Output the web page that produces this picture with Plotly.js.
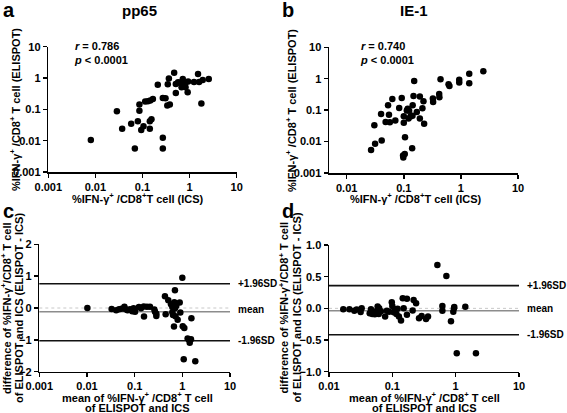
<!DOCTYPE html>
<html>
<head>
<meta charset="utf-8">
<script src="https://cdn.plot.ly/plotly-3.0.1.min.js"></script>
<style>html,body{margin:0;padding:0;background:#fff;}#chart{width:567px;height:413px;}</style>
</head>
<body>
<div id="chart"></div>
<script>
// Panel a: pp65 (ICS vs ELISPOT)
const pp65ICS = [0.008,0.0286,0.037,0.0575,0.0688,0.0796,0.086,0.086,0.094,0.105,0.114,0.13,0.143,0.143,0.155,0.146,0.166,0.211,0.27,0.27,0.27,0.308,0.344,0.336,0.38,0.363,0.47,0.51,0.51,0.57,0.63,0.675,0.717,0.764,0.816,0.82,0.93,0.91,1.24,1.51,1.59,1.78,1.9,2.55];
const pp65ELI = [0.0105,0.0875,0.024,0.0347,0.0056,0.042,0.142,0.0896,0.022,0.029,0.177,0.18,0.024,0.042,0.048,0.19,0.215,0.614,0.232,0.0125,0.0056,0.226,0.63,0.132,0.142,0.97,1.48,0.334,0.645,0.73,0.71,0.505,0.93,0.6,0.71,0.505,0.78,0.35,0.75,1.34,0.75,0.153,0.86,0.93];
// Panel b: IE-1 (ICS vs ELISPOT)
const ie1ICS = [0.0267,0.0314,0.041,0.0305,0.04,0.048,0.057,0.053,0.055,0.063,0.071,0.083,0.092,0.1,0.1,0.097,0.098,0.104,0.105,0.113,0.117,0.121,0.124,0.131,0.142,0.14,0.143,0.148,0.152,0.169,0.191,0.191,0.212,0.221,0.227,0.323,0.326,0.417,0.42,0.44,0.608,0.63,0.935,0.935,1.4,1.4,2.47];
const ie1ELI = [0.0054,0.0086,0.0108,0.033,0.076,0.042,0.041,0.143,0.071,0.228,0.047,0.118,0.245,0.064,0.040,0.0036,0.0031,0.004,0.0137,0.097,0.11,0.054,0.095,0.063,0.066,0.0061,0.143,0.284,0.853,0.088,0.054,0.27,0.115,0.192,0.037,0.234,0.183,0.329,0.258,0.965,0.668,0.59,0.92,0.755,1.43,0.72,1.73];
// Panel c: pp65 Bland-Altman
const pp65Mean = [0.0102,0.0329,0.041,0.047,0.053,0.061,0.065,0.071,0.08,0.089,0.095,0.102,0.123,0.136,0.155,0.157,0.181,0.21,0.259,0.267,0.285,0.285,0.447,0.432,0.508,0.578,0.617,0.617,0.637,0.668,0.68,0.7,0.7,0.748,0.72,0.798,0.88,0.908,1.0,1.02,1.1,1.07,1.29,1.38,1.43,1.52,1.55,1.87];
const pp65Diff = [0,-0.03,-0.07,-0.04,-0.02,0.04,-0.04,-0.07,-0.04,-0.1,-0.01,-0.12,0.03,-0.01,0.05,-0.27,0.04,0.04,-0.05,-0.12,-0.18,-0.25,-0.2,0.37,0.24,0.12,0.03,-0.13,-0.22,-0.58,0.18,0.56,-0.01,0.07,-0.26,-0.37,0.17,-0.14,0.95,-0.57,-0.63,-1.61,-0.96,-1.0,-1.09,-0.98,-0.32,-1.67];
const pp65Limits = [0.76, -0.12, -1.03]; // +1.96SD, mean, -1.96SD
// Panel d: IE-1 Bland-Altman
const ie1Mean = [0.0168,0.021,0.0251,0.0273,0.0316,0.0328,0.0439,0.046,0.0483,0.052,0.053,0.057,0.0586,0.061,0.062,0.066,0.077,0.082,0.089,0.098,0.1,0.105,0.11,0.116,0.121,0.127,0.137,0.146,0.151,0.17,0.17,0.209,0.217,0.237,0.264,0.29,0.34,0.366,0.514,0.617,0.617,0.713,0.843,0.918,0.94,0.95,1.04,1.42,2.09];
const ie1Diff = [-0.016,-0.016,-0.037,-0.02,-0.058,0,-0.079,-0.016,-0.09,-0.058,-0.095,-0.037,0.03,-0.09,0,-0.047,-0.13,-0.037,-0.053,0.095,0.037,-0.063,-0.016,-0.09,-0.005,-0.13,-0.19,0.158,0,0.153,-0.1,-0.032,0.132,0.079,-0.158,-0.12,-0.168,-0.13,0.684,0.037,-0.037,0.51,-0.205,-0.053,0,0.02,-0.71,0.026,-0.71];
const ie1Limits = [0.358, -0.037, -0.416];
const limitLabels = ['+1.96SD', 'mean', '-1.96SD'];

const logTicks = [0.001, 0.01, 0.1, 1, 10];
const logTickText = ['0.001', '0.01', '0.1', '1', '10'];
const titles = ['pp65', 'IE-1'];
const panelLetters = ['a', 'b', 'c', 'd'];
const corrText = [['0.786', '< 0.0001'], ['0.740', '< 0.0001']];
const icsTitle = '%IFN-γ<sup>+</sup> /CD8<sup>+</sup>T cell (ICS)';
const eliTitle = '%IFN-γ<sup>+</sup> /CD8<sup>+</sup> T cell (ELISPOT)';
const meanTitle = ['mean of %IFN-γ<sup>+</sup> /CD8<sup>+</sup> T cell', 'of ELISPOT and ICS'];
const diffTitle = ['difference of %IFN-γ<sup>+</sup>/CD8<sup>+</sup> T cell', 'of ELISPOT and ICS (ELISPOT - ICS)'];

const FONT = 'Liberation Sans, Arial, Helvetica, sans-serif';
const W = 567, H = 413;
const px = v => v / W;
const py = v => 1 - v / H;

const marker = {color: '#000', size: 6.5};
function sc(x, y, xa, ya) {
  return {x: x, y: y, xaxis: xa, yaxis: ya, type: 'scatter', mode: 'markers', marker: marker, hoverinfo: 'x+y'};
}
const data = [
  sc(pp65ICS, pp65ELI, 'x', 'y'),
  sc(ie1ICS, ie1ELI, 'x2', 'y2'),
  sc(pp65Mean, pp65Diff, 'x3', 'y3'),
  sc(ie1Mean, ie1Diff, 'x4', 'y4')
];

const tickFont = {family: FONT, size: 11, color: '#000', weight: 'bold'};
const bold = (size) => ({family: FONT, size: size, color: '#000', weight: 'bold'});
function axis(extra) {
  return Object.assign({
    showline: true, linecolor: '#000', linewidth: 1.5, mirror: false,
    ticks: 'outside', ticklen: 4, tickwidth: 1.5, tickcolor: '#000',
    showgrid: false, zeroline: false, tickfont: tickFont, automargin: false, fixedrange: true
  }, extra);
}

const layout = {
  width: W, height: H,
  margin: {l: 0, r: 0, t: 0, b: 0},
  paper_bgcolor: '#fff', plot_bgcolor: '#fff',
  showlegend: false,
  font: {family: FONT, color: '#000'},
  xaxis: axis({type: 'log', range: [-3, 1], domain: [px(48.3), px(236.7)], anchor: 'y',
    tickvals: logTicks, ticktext: logTickText}),
  yaxis: axis({type: 'log', range: [-3, 1], domain: [py(172), py(46.7)], anchor: 'x',
    tickvals: logTicks, ticktext: logTickText}),
  xaxis2: axis({type: 'log', range: [-2.31, 1], domain: [px(329), px(518)], anchor: 'y2',
    tickvals: logTicks, ticktext: logTickText}),
  yaxis2: axis({type: 'log', range: [-3, 1], domain: [py(173), py(47.3)], anchor: 'x2',
    tickvals: logTicks, ticktext: logTickText}),
  xaxis3: axis({type: 'log', range: [-3, 1], domain: [px(39.3), px(230)], anchor: 'y3',
    tickvals: logTicks, ticktext: logTickText}),
  yaxis3: axis({range: [-2, 2], domain: [py(371.7), py(244.3)], anchor: 'x3',
    tickvals: [-2, -1, 0, 1, 2]}),
  xaxis4: axis({type: 'log', range: [-2, 1], domain: [px(329), px(519)], anchor: 'y4',
    tickvals: logTicks.slice(1), ticktext: logTickText.slice(1)}),
  yaxis4: axis({range: [-1, 1], domain: [py(371.7), py(245)], anchor: 'x4',
    tickvals: [-1, -0.5, 0, 0.5, 1], tickformat: '.1f'}),
  shapes: [],
  annotations: []
};

function note(x, y, text, font, extra) {
  layout.annotations.push(Object.assign({xref: 'paper', yref: 'paper', x: px(x), y: py(y),
    xanchor: 'center', yanchor: 'middle', text: text, showarrow: false, font: font}, extra || {}));
}

// Axis titles
note(138, 197.5, icsTitle, bold(11));
note(415.5, 197.5, icsTitle, bold(11));
note(15, 110, eliTitle, bold(11), {textangle: -90});
note(291, 111, eliTitle, bold(11), {textangle: -90});
note(137, 397, meanTitle[0], bold(11));
note(137, 408, meanTitle[1], bold(11));
note(424.7, 397, meanTitle[0], bold(11));
note(424.7, 408, meanTitle[1], bold(11));
note(6, 308, diffTitle[0], bold(11), {textangle: -90});
note(19, 308, diffTitle[1], bold(11), {textangle: -90});
note(283.5, 308, diffTitle[0], bold(11), {textangle: -90});
note(296.5, 308, diffTitle[1], bold(11), {textangle: -90});

// Bland-Altman reference lines
[[pp65Limits, 'x3', 'y3', 236.5], [ie1Limits, 'x4', 'y4', 525.5]].forEach(([lim, xa, ya, lx]) => {
  layout.shapes.push({type: 'line', xref: xa + ' domain', yref: ya, x0: 0, x1: 1, y0: 0, y1: 0,
    line: {color: '#c8c8c8', width: 1, dash: 'dot'}, layer: 'below'});
  lim.forEach((v, i) => {
    layout.shapes.push({type: 'line', xref: xa + ' domain', yref: ya, x0: 0, x1: 1, y0: v, y1: v,
      line: {color: i === 1 ? '#8c8c8c' : '#111', width: 1.6}, layer: 'below'});
    layout.annotations.push({xref: 'paper', yref: ya, x: px(lx), y: v, xanchor: 'left', yanchor: 'middle',
      yshift: i === 1 ? 2 : 0, borderpad: 0,
      text: limitLabels[i], showarrow: false, font: bold(10)});
  });
});

// Panel titles
note(139, 10, titles[0], bold(15));
note(414, 10, titles[1], bold(15));
// Panel letters
[[1, 10], [280, 10], [1, 211], [280, 211]].forEach(([x, y], i) => {
  note(x, y, panelLetters[i], bold(20), {xanchor: 'left'});
});
// Correlation stats
[[71.5, 0], [357.5, 1]].forEach(([x, k]) => {
  note(x, 52.5, '<i>r</i> = ' + corrText[k][0] + '<br><i>p</i> ' + corrText[k][1], bold(11), {xanchor: 'left', align: 'left'});
});

Plotly.newPlot('chart', data, layout, {staticPlot: true, displayModeBar: false});
</script>
</body>
</html>
